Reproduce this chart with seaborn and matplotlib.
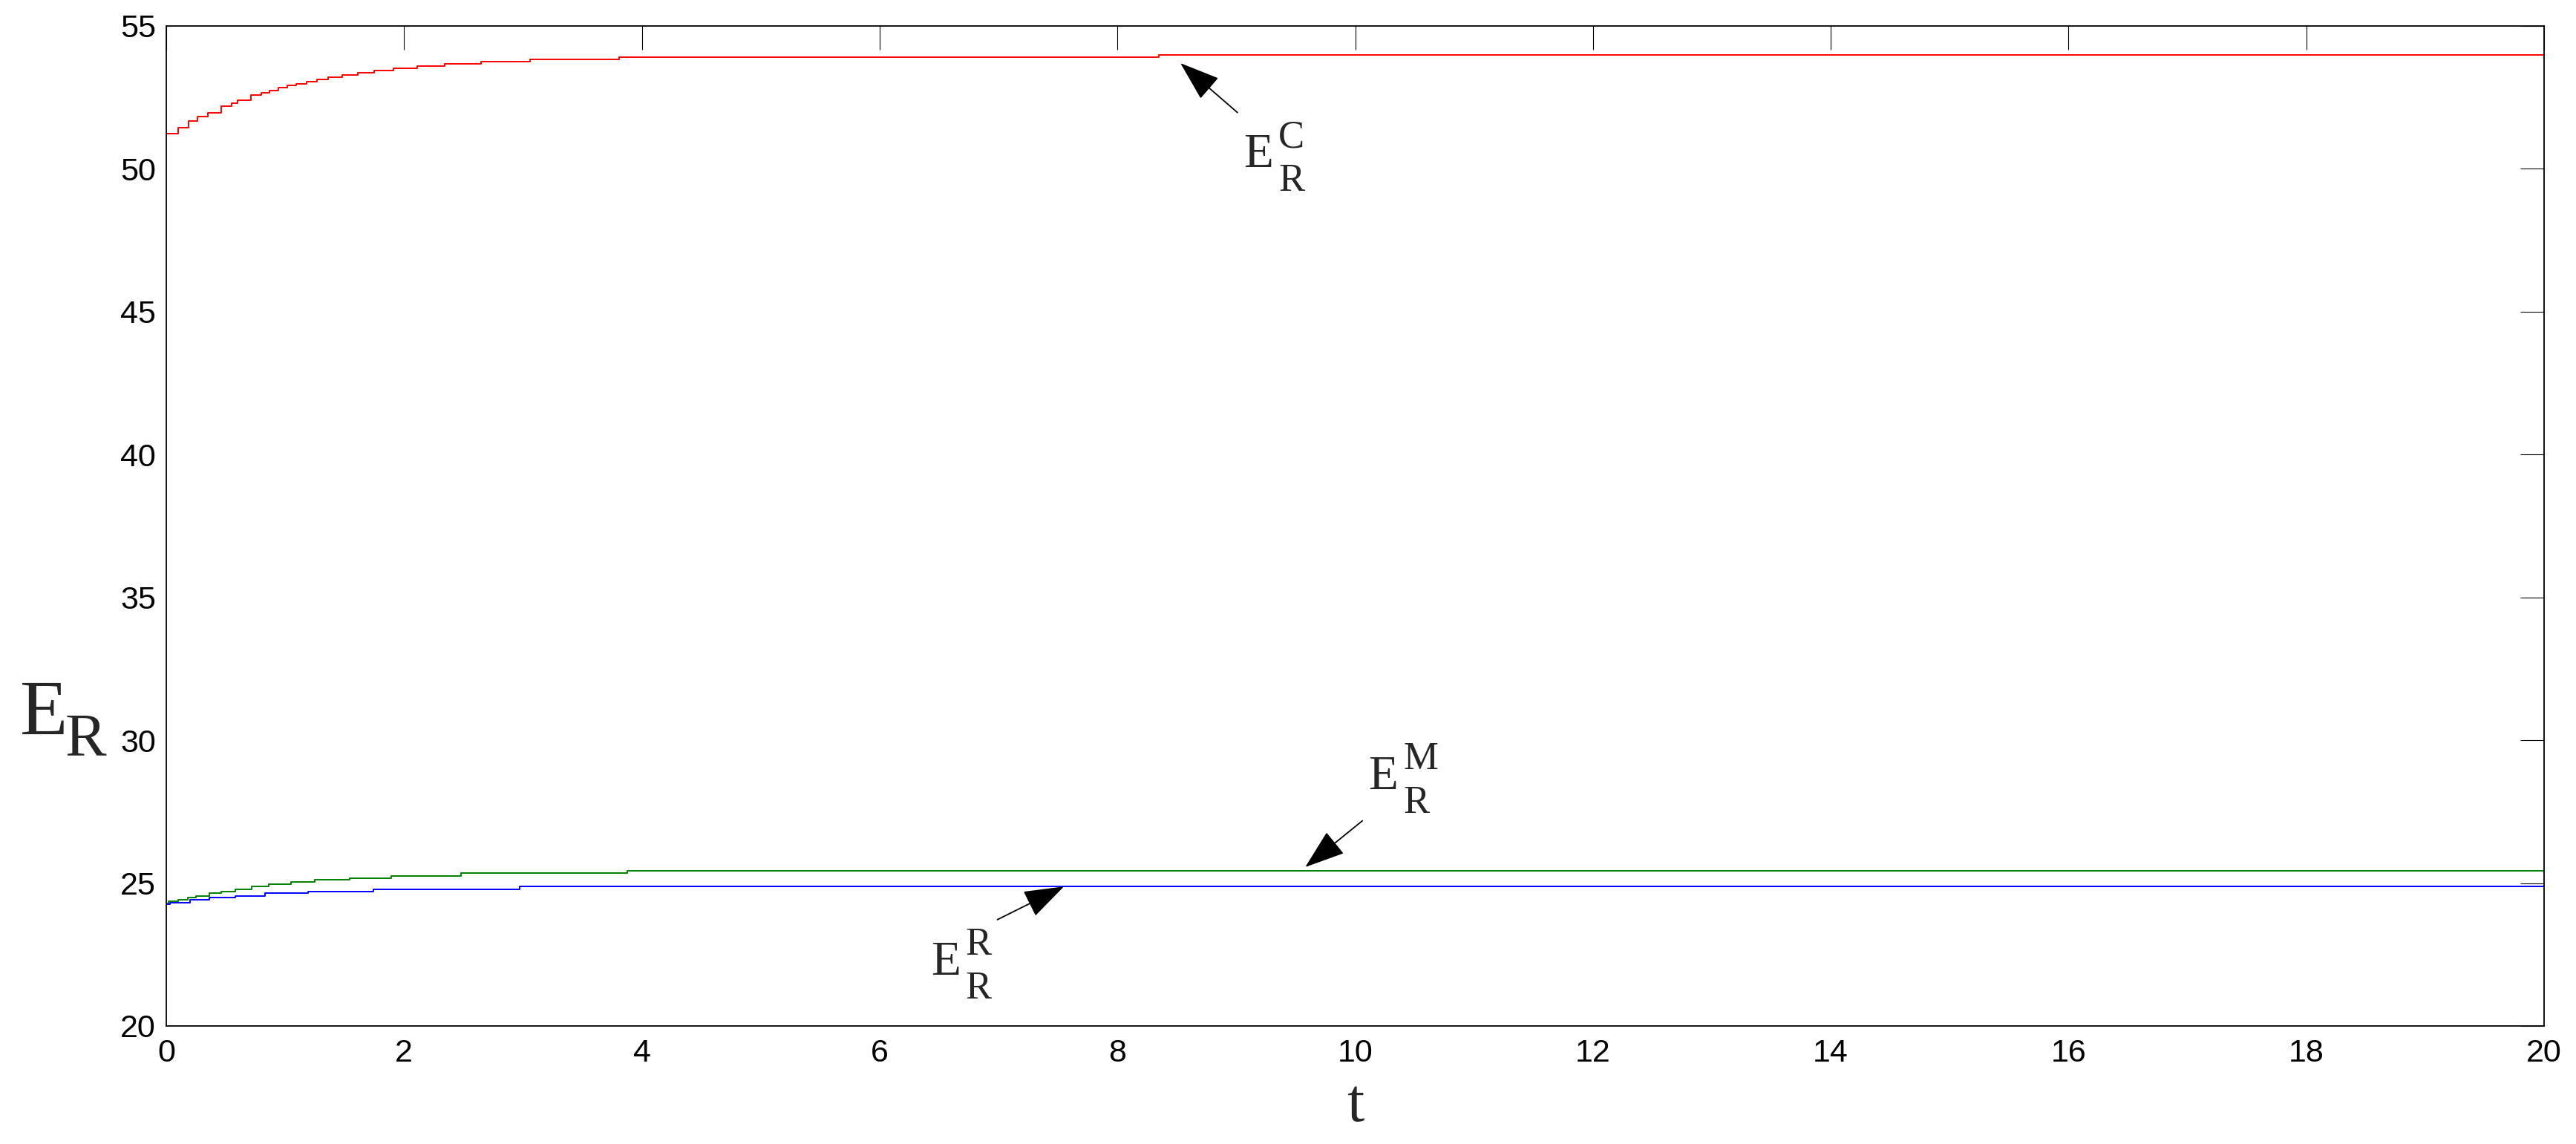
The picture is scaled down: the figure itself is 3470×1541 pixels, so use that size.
import numpy as np
import pandas as pd
import matplotlib
matplotlib.use('Agg')
import matplotlib.pyplot as plt
import seaborn as sns

# step curves: time where each new level starts, and the level
t_c = [0, 0.10, 0.19, 0.26, 0.35, 0.46, 0.55, 0.60, 0.71, 0.80, 0.87, 0.94, 1.02, 1.09,
       1.18, 1.27, 1.36, 1.48, 1.61, 1.75, 1.91, 2.11, 2.34, 2.65, 3.06, 3.81, 8.35, 20]
e_c = [51.23, 51.45, 51.67, 51.82, 51.97, 52.20, 52.29, 52.40, 52.58, 52.66, 52.75, 52.84,
       52.92, 52.98, 53.05, 53.12, 53.20, 53.29, 53.36, 53.43, 53.51, 53.59, 53.67, 53.75,
       53.82, 53.90, 53.99, 53.99]

t_m = [0, 0.02, 0.10, 0.18, 0.25, 0.36, 0.46, 0.58, 0.72, 0.86, 1.05, 1.25, 1.54, 1.89,
       2.48, 3.88, 20]
e_m = [24.30, 24.36, 24.43, 24.50, 24.56, 24.65, 24.71, 24.79, 24.88, 24.95, 25.04, 25.11,
       25.18, 25.26, 25.35, 25.43, 25.43]

t_r = [0, 0.03, 0.20, 0.36, 0.58, 0.83, 1.19, 1.74, 2.97, 20]
e_r = [24.26, 24.32, 24.42, 24.50, 24.56, 24.64, 24.71, 24.79, 24.88, 24.88]

series_names = ['C', 'M', 'R']
series_colors = {'C': '#ff0000', 'M': '#008000', 'R': '#0000ff'}

x_ticks = list(range(0, 21, 2))
y_ticks = list(range(20, 56, 5))

# annotation labels: (left/baseline of the "E", arrow tail, arrow tip)
labels = {
    'C': ((9.06, 50.06), (9.01, 51.97), (8.53, 53.70)),
    'M': ((10.11, 28.29), (10.06, 27.18), (9.58, 25.56)),
    'R': ((6.43, 21.80), (6.99, 23.72), (7.55, 24.88)),
}

df = pd.concat([
    pd.DataFrame({'t': t_c, 'E': e_c, 'series': 'C'}),
    pd.DataFrame({'t': t_m, 'E': e_m, 'series': 'M'}),
    pd.DataFrame({'t': t_r, 'E': e_r, 'series': 'R'}),
])

sns.set_style('white')
plt.rcParams['font.family'] = ['Liberation Sans', 'DejaVu Sans']

fig = plt.figure(figsize=(34.70, 15.41), dpi=100)
ax = fig.add_axes([224 / 3470, 1 - 1382 / 1541, 3203 / 3470, 1347 / 1541])

sns.lineplot(data=df, x='t', y='E', hue='series', hue_order=series_names,
             palette=series_colors, drawstyle='steps-post', linewidth=1.4,
             legend=False, ax=ax)

ax.set_xlim(0, 20)
ax.set_ylim(20, 55)
ax.set_xticks(x_ticks)
ax.set_yticks(y_ticks)
ax.tick_params(direction='in', length=23, width=0.8, labelsize=31,
               top=True, right=True, colors='black')
ax.tick_params(axis='x', pad=12)
ax.tick_params(axis='y', pad=10)
for s in ax.spines.values():
    s.set_linewidth(1.3)
    s.set_color('black')
ax.set_ylabel('')

serif = 'Liberation Serif'
ax.set_xlabel('t', fontsize=60, family=serif, va='baseline')
ax.xaxis.set_label_coords(0.5, -0.095)

# y label: E with subscript R, drawn as two texts
ax.text(-0.0615, 0.292, 'E', fontsize=76, family=serif, ha='left', va='baseline',
        transform=ax.transAxes)
ax.annotate('R', xy=(-0.0615, 0.292), xycoords='axes fraction', xytext=(61, -29),
            textcoords='offset pixels', fontsize=60, family=serif,
            ha='left', va='baseline')

for key, (e_pos, tail, tip) in labels.items():
    ax.annotate('', xy=tip, xytext=tail,
                arrowprops=dict(arrowstyle='-|>,head_length=1.15,head_width=0.4',
                                mutation_scale=30, lw=1.3, color='black',
                                shrinkA=0, shrinkB=0))
    # E with a large superscript (series) and subscript R, like the original
    ax.text(e_pos[0], e_pos[1], 'E', fontsize=47, family=serif,
            ha='left', va='baseline')
    ax.annotate(key, xy=e_pos, xytext=(47, 27), textcoords='offset pixels',
                fontsize=38, family=serif, ha='left', va='baseline')
    ax.annotate('R', xy=e_pos, xytext=(47, -32), textcoords='offset pixels',
                fontsize=38, family=serif, ha='left', va='baseline')

fig.savefig('out.png', dpi=100, facecolor='white')
